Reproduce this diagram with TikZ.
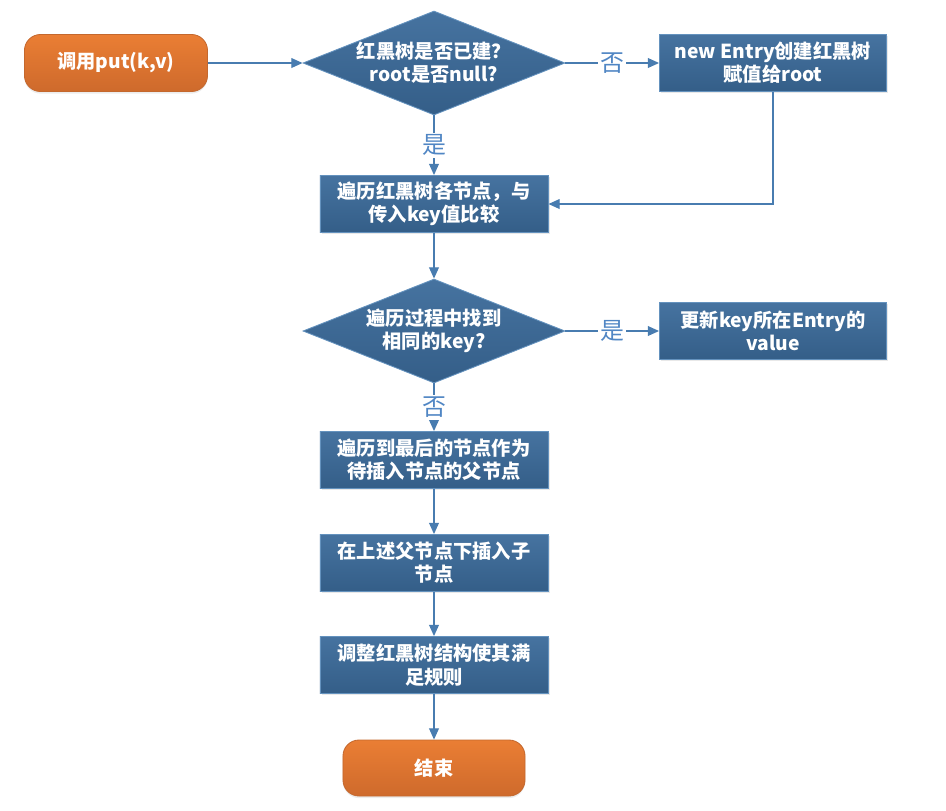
\documentclass[tikz,border=0pt]{standalone}
\usepackage{fontspec}
\setmainfont{Noto Sans CJK SC}
\usetikzlibrary{arrows.meta, shapes.geometric, shadows}
\definecolor{stepTop}{RGB}{70, 115, 160}
\definecolor{stepBot}{RGB}{52, 94, 136}
\definecolor{stepEdge}{RGB}{100, 146, 190}
\definecolor{termTop}{RGB}{234, 126, 52}
\definecolor{termBot}{RGB}{206, 106, 44}
\definecolor{termEdge}{RGB}{196, 104, 46}
\definecolor{flowLine}{RGB}{72, 124, 176}
\definecolor{flowLabel}{RGB}{80, 134, 196}

\begin{document}
\begin{tikzpicture}[x=0.025cm, y=-0.025cm,
  >={Triangle[length=8pt, width=7pt]},
  every node/.style={align=center, text=white,
    font=\fontsize{13.7}{16.5}\selectfont\bfseries},
  stepbox/.style={draw=stepEdge, line width=0.6pt, top color=stepTop,
    bottom color=stepBot, minimum width=5.7cm, minimum height=1.425cm,
    inner sep=2pt, drop shadow={opacity=0.18, shadow xshift=1.2pt, shadow yshift=-1.2pt}},
  sidebox/.style={stepbox, minimum width=5.675cm},
  decide/.style={diamond, draw=stepEdge, line width=0.6pt, top color=stepTop,
    bottom color=stepBot, inner sep=0pt, shape aspect=2.5,
    minimum width=6.55cm, minimum height=2.6cm},
  terminal/.style={draw=termEdge, line width=0.6pt, rounded corners=0.4cm,
    top color=termTop, bottom color=termBot, minimum width=4.575cm,
    minimum height=1.425cm, drop shadow={opacity=0.15, shadow xshift=0pt, shadow yshift=-1.5pt}},
  flow/.style={draw=flowLine, line width=0.9pt, ->},
  lbl/.style={fill=white, text=flowLabel, inner sep=1.5pt,
    font=\fontsize{17}{18}\selectfont}]
  \useasboundingbox (0,0) rectangle (946,810);

  \node[terminal] (start) at (116,63) {调用put(k,v)};
  \node[decide] (built) at (434,63) {红黑树是否已建？\\root是否null?};
  \node[sidebox] (create) at (773,63) {new Entry创建红黑树\\赋值给root};
  \node[stepbox] (walk) at (434,204) {遍历红黑树各节点，与\\传入key值比较};
  \node[decide] (found) at (434,331) {遍历过程中找到\\相同的key?};
  \node[sidebox] (update) at (773,331) {更新key所在Entry的\\value};
  \node[stepbox] (parent) at (434,460) {遍历到最后的节点作为\\待插入节点的父节点};
  \node[stepbox] (insert) at (434,563) {在上述父节点下插入子\\节点};
  \node[stepbox] (fix) at (434,665) {调整红黑树结构使其满\\足规则};
  \node[terminal, minimum width=4.55cm, minimum height=1.4cm] (finish) at (434,768) {结束};

  \draw[flow] (start) -- (built);
  \draw[flow] (built) -- node[lbl] {否} (create);
  \draw[flow] (built) -- node[lbl] {是} (walk);
  \draw[flow] (create.south) |- (walk.east);
  \draw[flow] (walk) -- (found);
  \draw[flow] (found) -- node[lbl] {是} (update);
  \draw[flow] (found) -- node[lbl] {否} (parent);
  \draw[flow] (parent) -- (insert);
  \draw[flow] (insert) -- (fix);
  \draw[flow] (fix) -- (finish);
\end{tikzpicture}
\end{document}
